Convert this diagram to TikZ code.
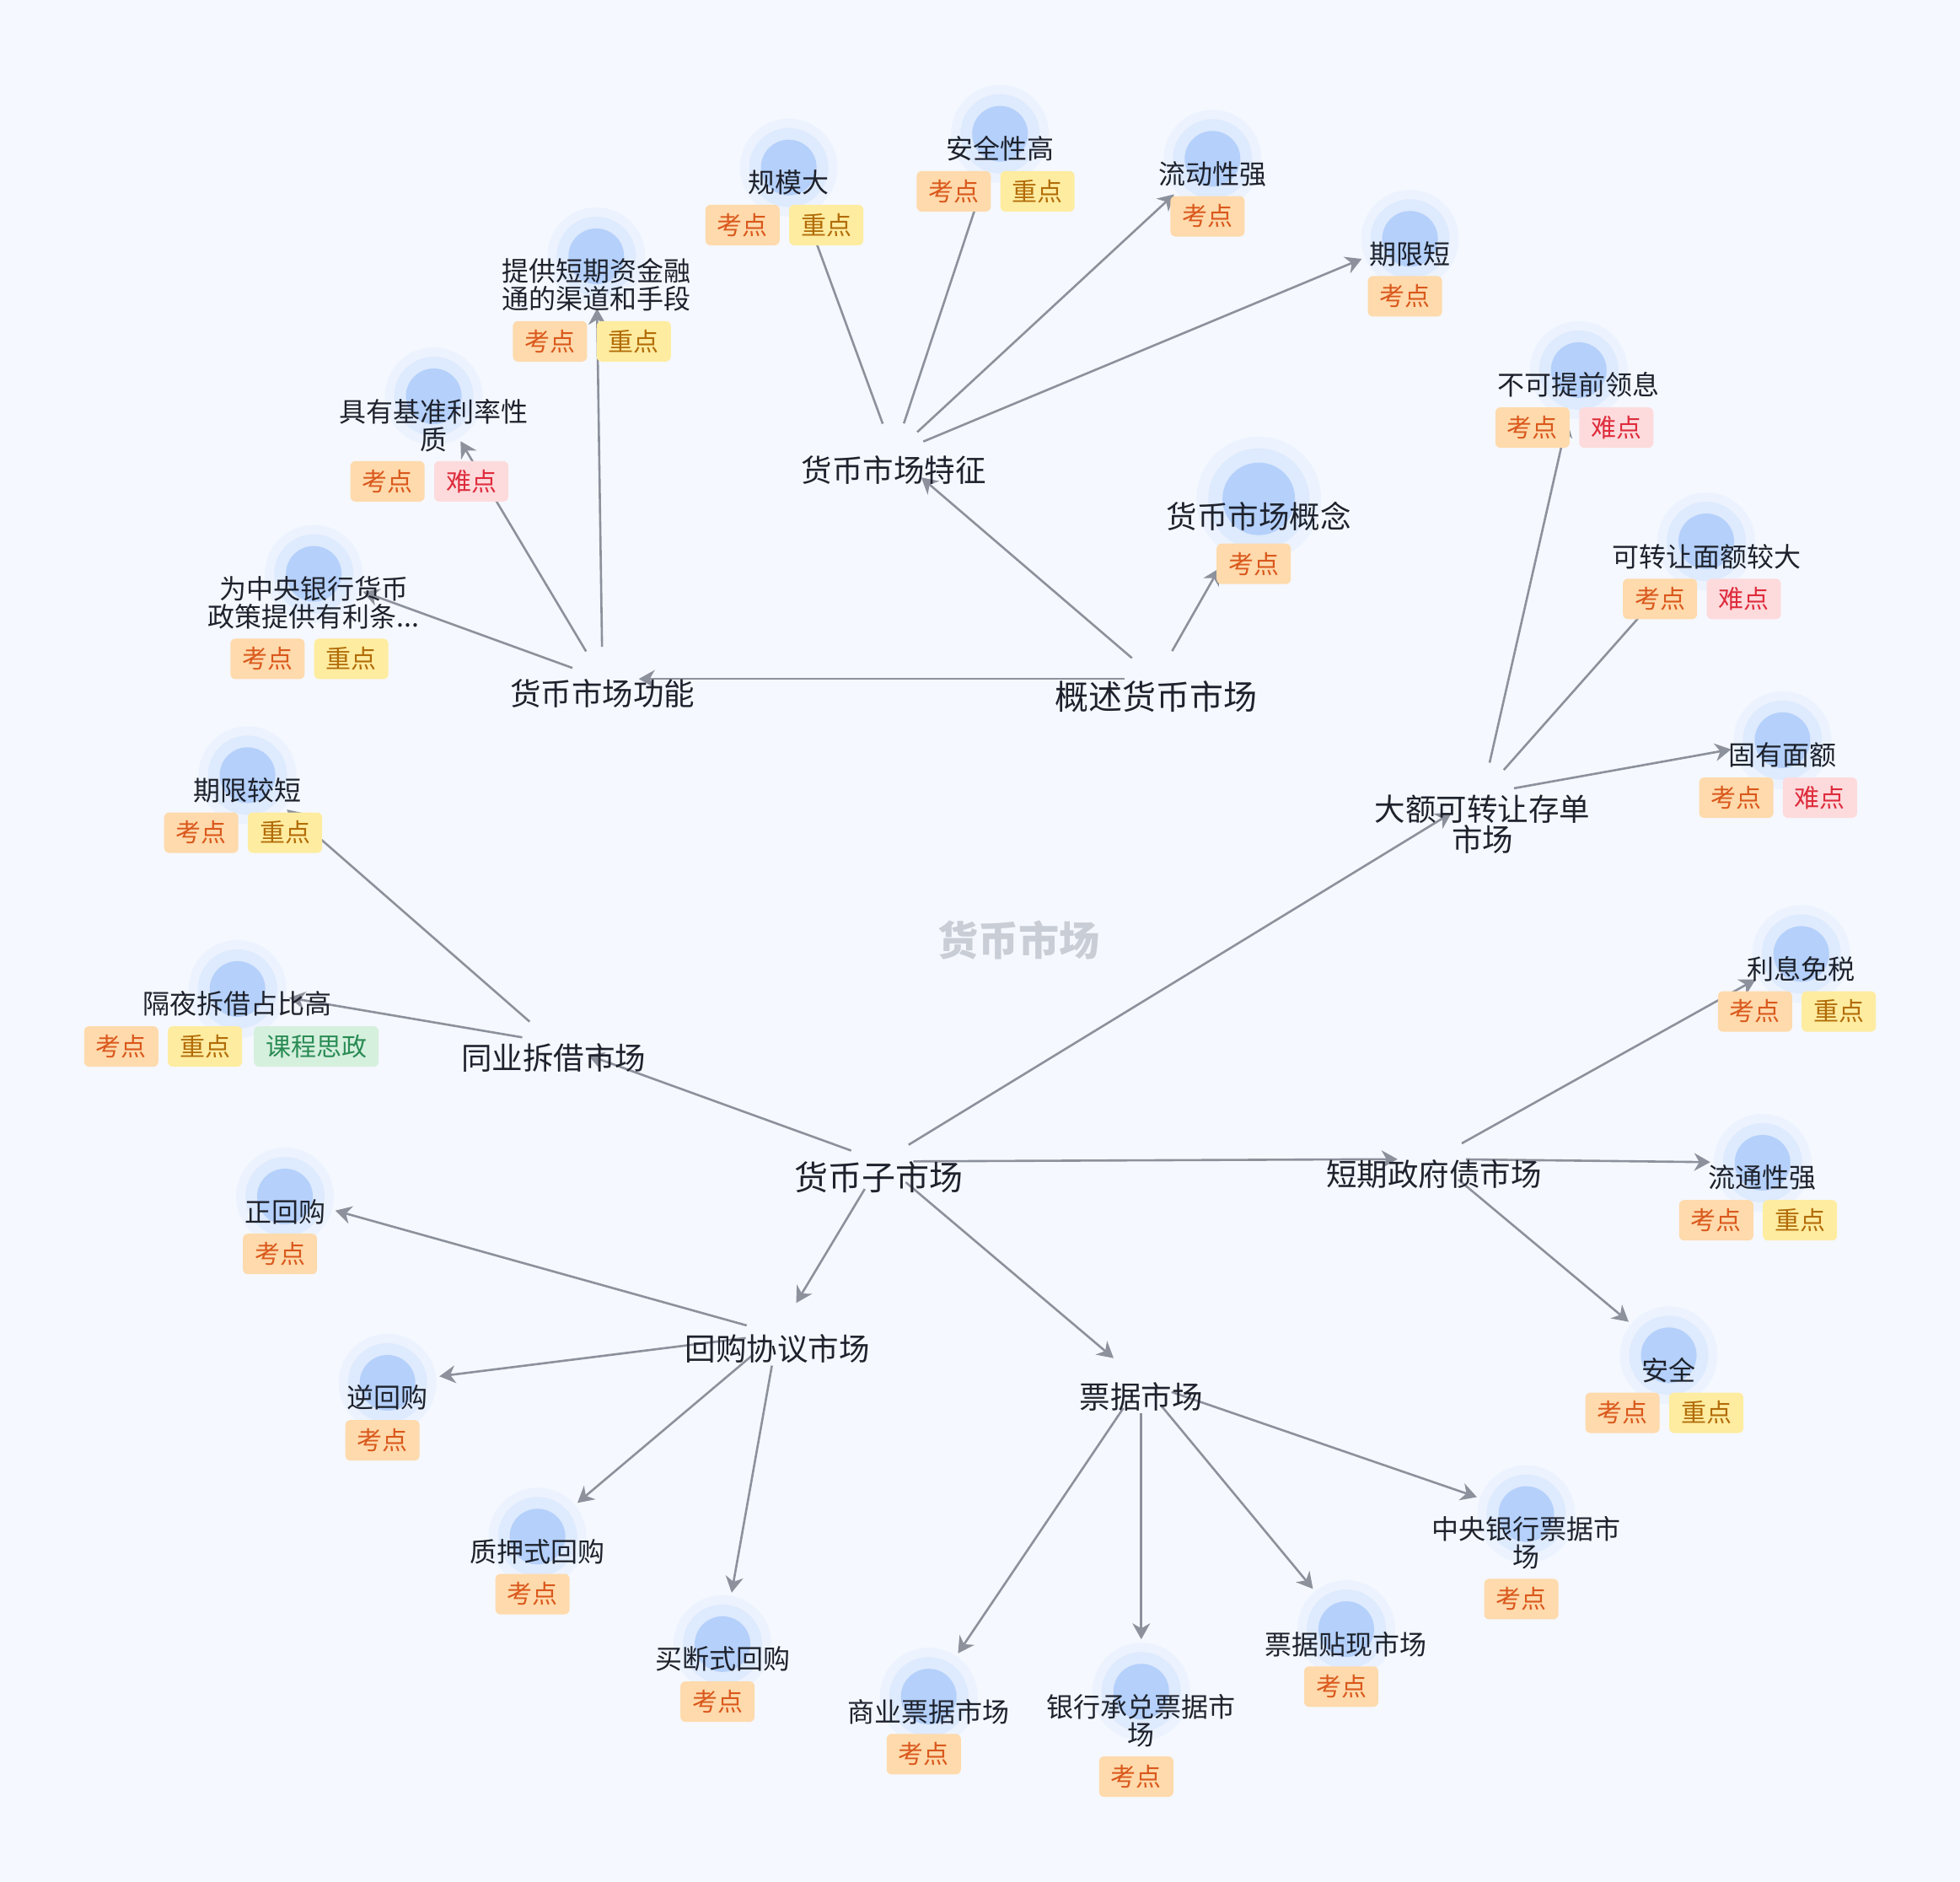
\documentclass[tikz,border=0pt]{standalone}
\usepackage{fontspec}
\newfontfamily\cjk{Noto Sans CJK SC}
\usetikzlibrary{arrows.meta}
\definecolor{bgc}{RGB}{245,248,254}
\definecolor{core}{RGB}{180,208,251}
\definecolor{glowA}{RGB}{236,243,254}
\definecolor{glowB}{RGB}{222,234,253}
\definecolor{txt}{RGB}{30,34,44}
\definecolor{edgec}{RGB}{140,145,156}
\definecolor{kaobg}{RGB}{254,218,172}
\definecolor{kaofg}{RGB}{218,88,28}
\definecolor{zhongbg}{RGB}{254,236,160}
\definecolor{zhongfg}{RGB}{178,108,8}
\definecolor{nanbg}{RGB}{253,219,221}
\definecolor{nanfg}{RGB}{222,44,60}
\definecolor{szbg}{RGB}{214,240,222}
\definecolor{szfg}{RGB}{42,140,84}
\definecolor{wm}{RGB}{200,205,214}
\newcommand\twoline[2]{\begin{tabular}[t]{@{}c@{}}\smash{#1}\\\smash{#2}\end{tabular}}
\tikzset{
  leafc/.style={circle, minimum size=66pt, inner sep=0pt, fill=core,
    preaction={draw=glowA, line width=50pt},
    preaction={draw=glowB, line width=28pt}},
  bigc/.style={circle, minimum size=86pt, inner sep=0pt, fill=core,
    preaction={draw=glowA, line width=62pt},
    preaction={draw=glowB, line width=34pt}},
  edge/.style={draw=edgec, line width=2.6pt, shorten <=38pt,
    -{Stealth[length=19pt,width=21pt,inset=6pt]}},
  tomain/.style={edge, shorten >=43pt},
  toleaf/.style={edge, shorten >=62pt},
  toplbl/.style={font=\cjk\fontsize{40}{42}\selectfont, text=txt, anchor=base, yshift=-15.2pt, inner sep=0pt},
  mainlbl/.style={font=\cjk\fontsize{36.5}{36}\selectfont, text=txt, anchor=base, yshift=-13.9pt, inner sep=0pt},
  leaflbl/.style={font=\cjk\fontsize{32}{33}\selectfont, text=txt, anchor=base, yshift=-12.2pt, inner sep=0pt},
  tagbox/.style={rounded corners=6pt, minimum height=48pt, inner xsep=14pt, inner ysep=0pt,
    text height=26.4pt, text depth=3.6pt, font=\cjk\fontsize{30}{30}\selectfont},
  kao/.style={tagbox, fill=kaobg, text=kaofg},
  zhong/.style={tagbox, fill=zhongbg, text=zhongfg},
  nan/.style={tagbox, fill=nanbg, text=nanfg},
  szz/.style={tagbox, fill=szbg, text=szfg},
}
\begin{document}
\begin{tikzpicture}[x=1.4828pt,y=-1.4828pt]
\fill[bgc] (0,0) rectangle (1568,1505);
\useasboundingbox (0,0) rectangle (1568,1505);

% watermark
\node[font=\cjk\bfseries\fontsize{48}{48}\selectfont, text=wm, anchor=base, yshift=-18.2pt, inner sep=0pt] (wmk) at (815,752) {货币市场};

% centres of text-only nodes
\coordinate (zi) at (705,929);
\coordinate (gs) at (925,543);
\coordinate (tz) at (715,363);
\coordinate (gn) at (482,543);
\coordinate (de) at (1186,635);
\coordinate (tyc) at (443,834);
\coordinate (dq) at (1147,927);
\coordinate (hg) at (622,1067);
\coordinate (pj) at (913,1105);

% leaf dots
\node[leafc] (gmd) at (631,134) {};
\node[leafc] (aqx) at (800,107) {};
\node[leafc] (ldx) at (970,127) {};
\node[leafc] (qxd) at (1128,191) {};
\node[leafc] (tgzj) at (477,205) {};
\node[leafc] (jyjz) at (347,317) {};
\node[leafc] (wzyh) at (251,459) {};
\node[bigc] (gngn) at (1007,399) {};
\node[leafc] (bktq) at (1263,296) {};
\node[leafc] (kzr) at (1365,433) {};
\node[leafc] (gymy) at (1426,592) {};
\node[leafc] (qxjd) at (198,620) {};
\node[leafc] (gycj) at (190,791) {};
\node[leafc] (lxms) at (1441,763) {};
\node[leafc] (ltxq) at (1410,930) {};
\node[leafc] (aq) at (1335,1084) {};
\node[leafc] (zhg) at (228,957) {};
\node[leafc] (nhg) at (310,1106) {};
\node[leafc] (zysh) at (430,1229) {};
\node[leafc] (mdsh) at (578,1315) {};
\node[leafc] (sypj) at (743,1357) {};
\node[leafc] (yhcd) at (913,1353) {};
\node[leafc] (pjtx) at (1077,1303) {};
\node[leafc] (zypj) at (1221,1211) {};

% edges
\draw[tomain] (zi) -- (de);
\draw[tomain] (zi) -- (dq);
\draw[tomain] (zi) -- (pj);
\draw[tomain] (zi) -- (hg);
\draw[tomain] (zi) -- (tyc);
\draw[tomain] (gs) -- (gn);
\draw[tomain] (gs) -- (tz);
\draw[edge, shorten >=95pt] (gs) -- (gngn.center);
\draw[toleaf] (tz) -- (gmd.center);
\draw[toleaf] (tz) -- (aqx.center);
\draw[toleaf] (tz) -- (ldx.center);
\draw[toleaf] (tz) -- (qxd.center);
\draw[toleaf] (gn) -- (tgzj.center);
\draw[toleaf] (gn) -- (jyjz.center);
\draw[toleaf] (gn) -- (wzyh.center);
\draw[toleaf] (de) -- (bktq.center);
\draw[toleaf] (de) -- (kzr.center);
\draw[toleaf] (de) -- (gymy.center);
\draw[toleaf] (tyc) -- (qxjd.center);
\draw[toleaf] (tyc) -- (gycj.center);
\draw[toleaf] (dq) -- (lxms.center);
\draw[toleaf] (dq) -- (ltxq.center);
\draw[toleaf] (dq) -- (aq.center);
\draw[toleaf] (hg) -- (zhg.center);
\draw[toleaf] (hg) -- (nhg.center);
\draw[toleaf] (hg) -- (zysh.center);
\draw[toleaf] (hg) -- (mdsh.center);
\draw[toleaf] (pj) -- (sypj.center);
\draw[toleaf] (pj) -- (yhcd.center);
\draw[toleaf] (pj) -- (pjtx.center);
\draw[toleaf] (pj) -- (zypj.center);

% main labels
\node[toplbl] (zi-t) at (703,942) {货币子市场};
\node[toplbl] (gs-t) at (925,557) {概述货币市场};
\node[mainlbl] (tz-t) at (715,376) {货币市场特征};
\node[mainlbl] (gn-t) at (482,555) {货币市场功能};
\node[mainlbl] (de-t) at (1186,647) {\twoline{大额可转让存单}{市场}};
\node[mainlbl] (tyc-t) at (443,846) {同业拆借市场};
\node[mainlbl] (dq-t) at (1147,939) {短期政府债市场};
\node[mainlbl] (hg-t) at (622,1079) {回购协议市场};
\node[mainlbl] (pj-t) at (913,1117) {票据市场};
\node[mainlbl] (gngn-t) at (1007,413) {货币市场概念};

% leaf labels
\node[leaflbl] (gmd-t) at (631,146) {规模大};
\node[leaflbl] (aqx-t) at (800,119) {安全性高};
\node[leaflbl] (ldx-t) at (970,139) {流动性强};
\node[leaflbl] (qxd-t) at (1128,203) {期限短};
\node[leaflbl] (tgzj-t) at (477,217) {\twoline{提供短期资金融}{通的渠道和手段}};
\node[leaflbl] (jyjz-t) at (347,329) {\twoline{具有基准利率性}{质}};
\node[leaflbl] (wzyh-t) at (251,471) {\twoline{为中央银行货币}{政策提供有利条...}};
\node[leaflbl] (bktq-t) at (1263,308) {不可提前领息};
\node[leaflbl] (kzr-t) at (1365,445) {可转让面额较大};
\node[leaflbl] (gymy-t) at (1426,604) {固有面额};
\node[leaflbl] (qxjd-t) at (198,632) {期限较短};
\node[leaflbl] (gycj-t) at (190,803) {隔夜拆借占比高};
\node[leaflbl] (lxms-t) at (1441,775) {利息免税};
\node[leaflbl] (ltxq-t) at (1410,942) {流通性强};
\node[leaflbl] (aq-t) at (1335,1096) {安全};
\node[leaflbl] (zhg-t) at (228,969) {正回购};
\node[leaflbl] (nhg-t) at (310,1118) {逆回购};
\node[leaflbl] (zysh-t) at (430,1241) {质押式回购};
\node[leaflbl] (mdsh-t) at (578,1327) {买断式回购};
\node[leaflbl] (sypj-t) at (743,1369) {商业票据市场};
\node[leaflbl] (yhcd-t) at (913,1365) {\twoline{银行承兑票据市}{场}};
\node[leaflbl] (pjtx-t) at (1077,1315) {票据贴现市场};
\node[leaflbl] (zypj-t) at (1221,1223) {\twoline{中央银行票据市}{场}};

% tags
\node[kao] (gmd-k) at (594,180) {考点};
\node[zhong] (gmd-z) at (661,180) {重点};
\node[kao] (aqx-k) at (763,153) {考点};
\node[zhong] (aqx-z) at (830,153) {重点};
\node[kao] (ldx-k) at (966,173) {考点};
\node[kao] (qxd-k) at (1124,237) {考点};
\node[kao] (tgzj-k) at (440,273) {考点};
\node[zhong] (tgzj-z) at (507,273) {重点};
\node[kao] (jyjz-k) at (310,385) {考点};
\node[nan] (jyjz-n) at (377,385) {难点};
\node[kao] (wzyh-k) at (214,527) {考点};
\node[zhong] (wzyh-z) at (281,527) {重点};
\node[kao] (gngn-k) at (1003,451) {考点};
\node[kao] (bktq-k) at (1226,342) {考点};
\node[nan] (bktq-n) at (1293,342) {难点};
\node[kao] (kzr-k) at (1328,479) {考点};
\node[nan] (kzr-n) at (1395,479) {难点};
\node[kao] (gymy-k) at (1389,638) {考点};
\node[nan] (gymy-n) at (1456,638) {难点};
\node[kao] (qxjd-k) at (161,666) {考点};
\node[zhong] (qxjd-z) at (228,666) {重点};
\node[kao] (gycj-k) at (97,837) {考点};
\node[zhong] (gycj-z) at (164,837) {重点};
\node[szz] (gycj-s) at (253,837) {课程思政};
\node[kao] (lxms-k) at (1404,809) {考点};
\node[zhong] (lxms-z) at (1471,809) {重点};
\node[kao] (ltxq-k) at (1373,976) {考点};
\node[zhong] (ltxq-z) at (1440,976) {重点};
\node[kao] (aq-k) at (1298,1130) {考点};
\node[zhong] (aq-z) at (1365,1130) {重点};
\node[kao] (zhg-k) at (224,1003) {考点};
\node[kao] (nhg-k) at (306,1152) {考点};
\node[kao] (zysh-k) at (426,1275) {考点};
\node[kao] (mdsh-k) at (574,1361) {考点};
\node[kao] (sypj-k) at (739,1403) {考点};
\node[kao] (yhcd-k) at (909,1421) {考点};
\node[kao] (pjtx-k) at (1073,1349) {考点};
\node[kao] (zypj-k) at (1217,1279) {考点};
\end{tikzpicture}
\end{document}
